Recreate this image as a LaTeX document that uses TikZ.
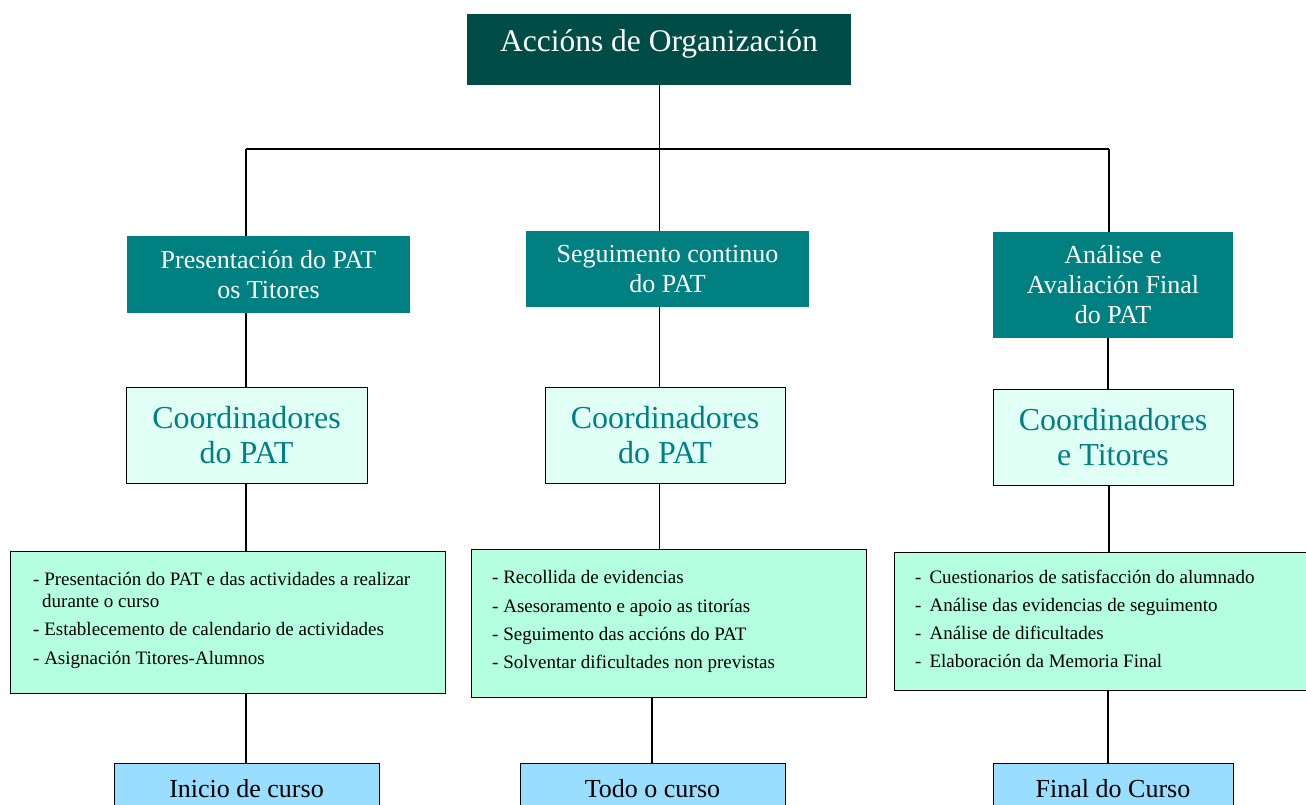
\documentclass[tikz,border=0pt]{standalone}
\usepackage{fontspec}
\setmainfont{Liberation Serif}
\definecolor{darkteal}{HTML}{004D47}
\definecolor{midteal}{HTML}{008080}
\definecolor{mintpale}{HTML}{E0FFF5}
\definecolor{mintmid}{HTML}{B3FFDF}
\definecolor{skyblue}{HTML}{99DDFF}
\begin{document}
\begin{tikzpicture}[x=1pt,y=-1pt,
  conn/.style={line width=1.6pt,black},
  boxbase/.style={rectangle,inner sep=0pt,outer sep=0pt,anchor=north west},
  lvlone/.style={boxbase,fill=darkteal},
  lvltwo/.style={boxbase,fill=midteal,text=white,align=center,font=\fontsize{26}{30}\selectfont},
  lvlthree/.style={boxbase,fill=mintpale,draw=black,line width=0.9pt,text=midteal,align=center,font=\fontsize{32}{35}\selectfont},
  lvlfour/.style={boxbase,fill=mintmid,draw=black,line width=0.9pt},
  lvlfive/.style={boxbase,fill=skyblue,draw=black,line width=0.9pt},
  itemtxt/.style={anchor=base west,inner sep=0pt,font=\fontsize{19}{22}\selectfont},
  whentxt/.style={anchor=base,inner sep=0pt,font=\fontsize{26}{30}\selectfont}
]
\useasboundingbox (0,0) rectangle (1306,805);
\fill[white] (0,0) rectangle (1306,805);

% level 1
\node[lvlone,minimum width=384pt,minimum height=71pt] (top) at (467,14) {};
\node[anchor=base,inner sep=0pt,text=white,font=\fontsize{31.5}{34}\selectfont] (toptxt) at (659,52) {Accións de Organización};

% level 2
\node[lvltwo,minimum width=283pt,minimum height=77pt] (A2) at (127,236) {Presentación do PAT\\os Titores};
\node[lvltwo,minimum width=283pt,minimum height=76pt] (B2) at (526,231) {Seguimento continuo\\do PAT};
\node[lvltwo,minimum width=240pt,minimum height=106pt] (C2) at (993,232) {Análise e\\Avaliación Final\\do PAT};

% level 3
\node[lvlthree,minimum width=241pt,minimum height=96pt] (A3) at (126,387) {Coordinadores\\do PAT};
\node[lvlthree,minimum width=240pt,minimum height=96pt] (B3) at (545,387) {Coordinadores\\do PAT};
\node[lvlthree,minimum width=240pt,minimum height=96pt] (C3) at (993,389) {Coordinadores\\e Titores};

% level 4
\node[lvlfour,minimum width=435pt,minimum height=142pt] (A4) at (10,551) {};
\node[lvlfour,minimum width=395pt,minimum height=148pt] (B4) at (471,549) {};
\node[lvlfour,minimum width=420pt,minimum height=138pt] (C4) at (894,552) {};

\node[itemtxt] (a41) at (33,585) {- Presentación do PAT e das actividades a realizar};
\node[itemtxt] (a42) at (42,607) {durante o curso};
\node[itemtxt] (a43) at (33,635) {- Establecemento de calendario de actividades};
\node[itemtxt] (a44) at (33,664) {- Asignación Titores-Alumnos};

\node[itemtxt] (b41) at (492,583) {- Recollida de evidencias};
\node[itemtxt] (b42) at (492,612) {- Asesoramento e apoio as titorías};
\node[itemtxt] (b43) at (492,640) {- Seguimento das accións do PAT};
\node[itemtxt] (b44) at (492,668) {- Solventar dificultades non previstas};

\node[itemtxt] (c41) at (915,583) {-\hspace{8pt}Cuestionarios de satisfacción do alumnado};
\node[itemtxt] (c42) at (915,611) {-\hspace{8pt}Análise das evidencias de seguimento};
\node[itemtxt] (c43) at (915,639) {-\hspace{8pt}Análise de dificultades};
\node[itemtxt] (c44) at (915,667) {-\hspace{8pt}Elaboración da Memoria Final};

% level 5
\node[lvlfive,minimum width=265pt,minimum height=60pt] (A5) at (114,763) {};
\node[lvlfive,minimum width=265pt,minimum height=60pt] (B5) at (520,763) {};
\node[lvlfive,minimum width=240pt,minimum height=60pt] (C5) at (993,763) {};
\node[whentxt] (a5t) at (246.5,797) {Inicio de curso};
\node[whentxt] (b5t) at (652.5,797) {Todo o curso};
\node[whentxt] (c5t) at (1113,797) {Final do Curso};

% connector columns
\coordinate (xA) at (246,149);
\coordinate (xB) at (659.5,149);
\coordinate (xC) at (1109,149);
\coordinate (xBlow) at (652,0);
\coordinate (xClow) at (1108,0);

% tree top
\draw[conn] (xB |- top.south) -- (xB |- B2.north);
\draw[conn] (xA) -- (xC);
\draw[conn] (xA) -- (xA |- A2.north);
\draw[conn] (xC) -- (xC |- C2.north);

% column A
\draw[conn] (xA |- A2.south) -- (xA |- A3.north);
\draw[conn] (xA |- A3.south) -- (xA |- A4.north);
\draw[conn] (xA |- A4.south) -- (xA |- A5.north);

% column B
\draw[conn] (xB |- B2.south) -- (xB |- B3.north);
\draw[conn] (xB |- B3.south) -- (xB |- B4.north);
\draw[conn] (xBlow |- B4.south) -- (xBlow |- B5.north);

% column C
\draw[conn] (xClow |- C2.south) -- (xClow |- C3.north);
\draw[conn] (xC |- C3.south) -- (xC |- C4.north);
\draw[conn] (xClow |- C4.south) -- (xClow |- C5.north);
\end{tikzpicture}
\end{document}
